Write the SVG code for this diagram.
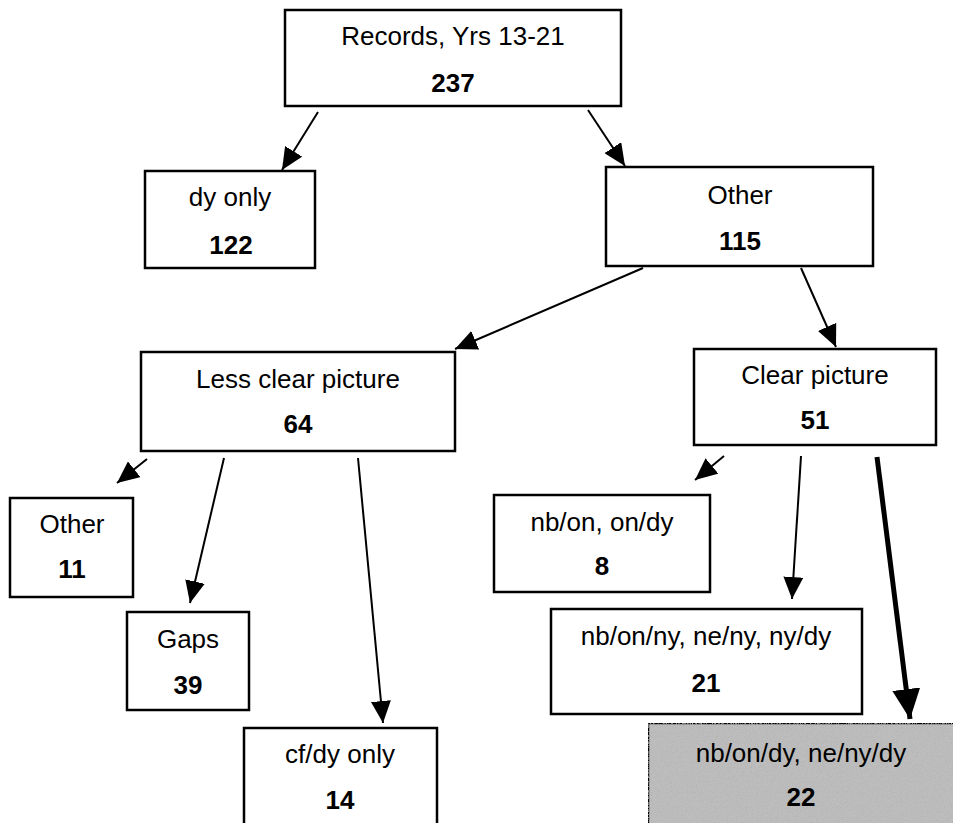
<svg xmlns="http://www.w3.org/2000/svg" width="953" height="823" viewBox="0 0 953 823">
<style>
.box{fill:#fff;stroke:#000;stroke-width:2.5}
.hl{fill:#bdbdbd;stroke:#000;stroke-width:2.5}
.t{font-family:"Liberation Sans",Arial,sans-serif;font-size:26px;text-anchor:middle;fill:#000}
.n{font-weight:bold}
.c{stroke:#000;stroke-width:2;fill:none;marker-end:url(#ah)}
.ck{stroke:#000;stroke-width:5;fill:none;marker-end:url(#ahk)}
</style>
<defs>
<marker id="ah" markerUnits="userSpaceOnUse" markerWidth="22" markerHeight="20" refX="22" refY="10" orient="auto" viewBox="0 0 22 20">
<path d="M0,0 L22,10 L0,20 z" fill="#000"/>
</marker>
<marker id="ahk" markerUnits="userSpaceOnUse" markerWidth="30" markerHeight="28" refX="30" refY="14" orient="auto" viewBox="0 0 30 28">
<path d="M0,0 L30,14 L0,28 z" fill="#000"/>
</marker>
<filter id="noise" x="0" y="0" width="100%" height="100%">
<feTurbulence type="fractalNoise" baseFrequency="1.2" numOctaves="1" seed="3" result="n"/>
<feColorMatrix type="matrix" values="0 0 0 0 0.45  0 0 0 0 0.45  0 0 0 0 0.45  0 0 0 3 -1.4" in="n" result="g"/>
<feComposite in="g" in2="SourceGraphic" operator="in" result="gg"/>
<feMerge><feMergeNode in="SourceGraphic"/><feMergeNode in="gg"/></feMerge>
</filter>
</defs>

<g id="connectors">
<line class="c" x1="318" y1="112" x2="282" y2="170"/>
<line class="c" x1="588" y1="110" x2="625" y2="166"/>
<line class="c" x1="643" y1="268" x2="455" y2="349"/>
<line class="c" x1="801" y1="268" x2="836" y2="347"/>
<line class="c" x1="147" y1="459" x2="117" y2="483"/>
<line class="c" x1="224" y1="458" x2="190" y2="603"/>
<line class="c" x1="358" y1="458" x2="383" y2="723"/>
<line class="c" x1="724" y1="456" x2="695" y2="480"/>
<line class="c" x1="801" y1="456" x2="792" y2="599"/>
<line class="ck" x1="877" y1="457" x2="910" y2="719"/>
</g>

<g id="n-records">
<rect class="box" x="285" y="10" width="336" height="96"/>
<text class="t" x="453" y="45">Records, Yrs 13-21</text>
<text class="t n" x="453" y="92">237</text>
</g>

<g id="n-dyonly">
<rect class="box" x="145" y="171" width="170" height="97"/>
<text class="t" x="230" y="206">dy only</text>
<text class="t n" x="231" y="254">122</text>
</g>

<g id="n-other115">
<rect class="box" x="606" y="167" width="267" height="99"/>
<text class="t" x="740" y="204">Other</text>
<text class="t n" x="740" y="250">115</text>
</g>

<g id="n-lessclear">
<rect class="box" x="141" y="352" width="314" height="99"/>
<text class="t" x="298" y="388">Less clear picture</text>
<text class="t n" x="298" y="433">64</text>
</g>

<g id="n-clear">
<rect class="box" x="694" y="349" width="242" height="96"/>
<text class="t" x="815" y="384">Clear picture</text>
<text class="t n" x="815" y="429">51</text>
</g>

<g id="n-other11">
<rect class="box" x="10" y="498" width="123" height="99"/>
<text class="t" x="72" y="533">Other</text>
<text class="t n" x="72" y="578">11</text>
</g>

<g id="n-gaps">
<rect class="box" x="127" y="612" width="122" height="98"/>
<text class="t" x="188" y="648">Gaps</text>
<text class="t n" x="188" y="694">39</text>
</g>

<g id="n-cfdy">
<rect class="box" x="244" y="728" width="193" height="100"/>
<text class="t" x="340" y="763">cf/dy only</text>
<text class="t n" x="340" y="809">14</text>
</g>

<g id="n-nbon">
<rect class="box" x="494" y="495" width="216" height="97"/>
<text class="t" x="602" y="531">nb/on, on/dy</text>
<text class="t n" x="602" y="575">8</text>
</g>

<g id="n-nbonny">
<rect class="box" x="551" y="609" width="311" height="105"/>
<text class="t" x="706" y="645">nb/on/ny, ne/ny, ny/dy</text>
<text class="t n" x="706" y="692">21</text>
</g>

<g id="n-nbondy">
<rect class="hl" x="648" y="723" width="310" height="105" filter="url(#noise)"/>
<text class="t" x="801" y="762">nb/on/dy, ne/ny/dy</text>
<text class="t n" x="801" y="806">22</text>
</g>
</svg>
